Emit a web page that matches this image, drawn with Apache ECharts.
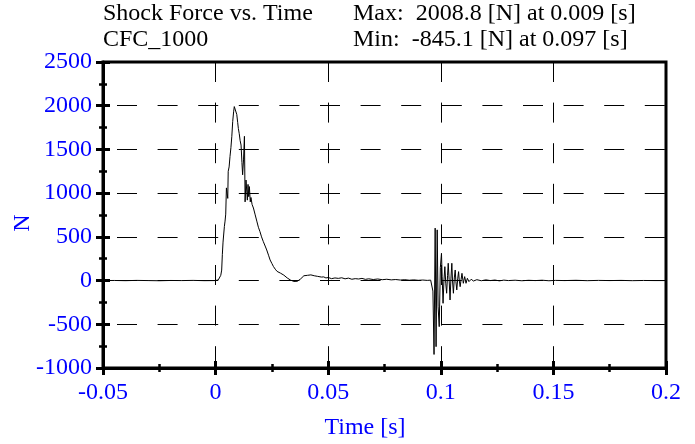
<!DOCTYPE html>
<html lang="en">
<head>
    <meta charset="utf-8">
    <script src="https://cdn.jsdelivr.net/npm/echarts@6/dist/echarts.min.js"></script>
    <style>
        html, body { margin: 0; padding: 0; background: #fff; }
        #main { width: 695px; height: 444px; }
    </style>
</head>
<body>
<div id="main"></div>
<script type="text/javascript">
    // time [s] and shock force [N]
    var timeS = [
        -0.05, -0.045, -0.04, -0.035, -0.03, -0.025, -0.02, -0.015, -0.01, -0.005,
        0, 0.0006, 0.0012, 0.0018, 0.0023, 0.0027, 0.0030, 0.0033, 0.0036, 0.0039,
        0.0042, 0.0045, 0.0048, 0.0051, 0.0054, 0.0056, 0.0060, 0.0064, 0.0068, 0.0072,
        0.0076, 0.0080, 0.0083, 0.0086, 0.0090, 0.0094, 0.0098, 0.0101, 0.0105, 0.0109,
        0.0113, 0.0117, 0.0120, 0.0124, 0.0128, 0.0131, 0.0135, 0.0138, 0.0141, 0.0144,
        0.0147, 0.0150, 0.0154, 0.0157, 0.0162, 0.0168, 0.0175, 0.0183, 0.0190, 0.0197,
        0.0204, 0.0212, 0.0220, 0.0227, 0.0235, 0.0242, 0.0250, 0.0257, 0.0265, 0.0273,
        0.0280, 0.0288, 0.0295, 0.0303, 0.0310, 0.0318, 0.0325, 0.0333, 0.0340, 0.0348,
        0.0355, 0.0363, 0.0370, 0.0378, 0.0385, 0.0392, 0.0400, 0.0408, 0.0415, 0.0423,
        0.0430, 0.0438, 0.0445, 0.0453, 0.0460, 0.0470, 0.0480, 0.0490, 0.0500, 0.0515,
        0.0530, 0.0545, 0.0560, 0.0575, 0.0590, 0.0605, 0.0620, 0.0635, 0.0650, 0.0665,
        0.0680, 0.0700, 0.0720, 0.0740, 0.0760, 0.0780, 0.0800, 0.0820, 0.0840, 0.0860,
        0.0880, 0.0900, 0.0920, 0.0940, 0.0955, 0.0962, 0.0965, 0.0970, 0.0975, 0.0979,
        0.0984, 0.0988, 0.0993, 0.0998, 0.1003, 0.1006, 0.1010, 0.1014, 0.1018, 0.1022,
        0.1026, 0.1030, 0.1033, 0.1037, 0.1041, 0.1045, 0.1049, 0.1052, 0.1056, 0.1060,
        0.1064, 0.1067, 0.1071, 0.1075, 0.1079, 0.1082, 0.1086, 0.1090, 0.1094, 0.1100,
        0.1106, 0.1112, 0.1118, 0.1125, 0.1135, 0.1145, 0.116, 0.118, 0.120, 0.122,
        0.124, 0.126, 0.128, 0.130, 0.133, 0.136, 0.139, 0.142, 0.145, 0.148,
        0.151, 0.155, 0.160, 0.165, 0.170, 0.175, 0.180, 0.185, 0.190, 0.195,
        0.200
    ];
    var forceN = [
        0, 1, -1, 2, 0, -2, 1, 0, 2, -1,
        0, 4, 8, 25, 60, 120, 300, 440, 430, 620,
        680, 760, 1060, 1000, 940, 1250, 1300, 1420, 1520, 1650,
        1820, 1930, 1990, 1975, 2008.8, 1900, 1810, 1740, 1680, 1600,
        1550, 1350, 1210, 1380, 1650, 900, 1150, 1170, 920, 1100,
        960, 1075, 900, 950, 870, 830, 760, 680, 610, 560,
        500, 445, 395, 350, 290, 236, 195, 160, 130, 105,
        100, 85, 75, 62, 50, 30, 15, 5, -5, -10,
        0, -8, 5, 20, 40, 55, 70, 60, 80, 65,
        75, 55, 60, 48, 55, 40, 42, 30, 35, 22,
        30, 25, 32, 20, 28, 15, 22, 18, 25, 14,
        20, 12, 18, 10, 15, 8, 12, 6, 10, 4,
        8, 3, 6, 2, 5, 0, -120, -845.1, 600, -756,
        580, -300, -527, 150, 312, 50, -260, 0, 159, -30,
        -145, 60, 198, 10, -222, 20, 198, 0, -145, 30,
        121, -10, -107, 20, 102, 0, -70, 10, 83, -31,
        45, -31, 26, -12, 15, -5, 10, -2, 8, 0,
        6, -3, 5, 0, 4, -2, 3, 0, 4, -2,
        2, 0, 3, -1, 2, 0, 2, -1, 1, 0,
        0
    ];
    var xTicks = { min: -0.05, max: 0.2, step: 0.05 };
    var yTicks = { min: -1000, max: 2500, step: 500 };

    var titleLeft = ['Shock Force vs. Time', 'CFC_1000'];
    var titleRight = ['Max:  2008.8 [N] at 0.009 [s]', 'Min:  -845.1 [N] at 0.097 [s]'];

    var font = "'Liberation Serif', 'Times New Roman', serif";
    var blue = '#0000ff';

    var points = [];
    for (var i = 0; i < timeS.length; i++) {
        points.push([timeS[i], forceN[i]]);
    }

    function textTitle(txt, left, top) {
        return {
            text: txt, left: left, top: top, padding: 0,
            textStyle: { fontFamily: font, fontSize: 24, fontWeight: 'normal', color: '#000' }
        };
    }

    function plainNum(v) {
        return String(Math.round(v * 1000) / 1000);
    }

    // main axis draws line, labels, outer ticks; twin axis draws inner ticks
    function xAxisOf(main) {
        return {
            type: 'value', position: 'bottom',
            min: xTicks.min, max: xTicks.max, interval: xTicks.step,
            name: main ? 'Time [s]' : '',
            nameLocation: 'middle', nameGap: 48, nameMoveOverlap: false,
            nameTextStyle: { fontFamily: font, fontSize: 24, color: blue, padding: [0, 39, 0, 0] },
            axisLine: { show: main, onZero: false, lineStyle: { color: '#000', width: 3 } },
            axisTick: { show: true, inside: !main, length: 7, lineStyle: { color: '#000', width: 3 } },
            minorTick: { show: true, splitNumber: 2, length: 4, lineStyle: { color: '#000', width: 2.5 } },
            axisLabel: { show: main, margin: 13, color: blue, fontFamily: font, fontSize: 24, formatter: plainNum },
            splitLine: {
                show: main,
                lineStyle: { color: '#000', width: 1, type: [20, 20.6], dashOffset: 0 }
            }
        };
    }

    function yAxisOf(main) {
        return {
            type: 'value', position: 'left',
            min: yTicks.min, max: yTicks.max, interval: yTicks.step,
            name: main ? 'N' : '',
            nameLocation: 'middle', nameGap: 68, nameRotate: 90, nameMoveOverlap: false,
            nameTextStyle: { fontFamily: font, fontSize: 24, color: blue, padding: [0, 16, 0, 0] },
            axisLine: { show: main, onZero: false, lineStyle: { color: '#000', width: 3 } },
            axisTick: { show: true, inside: !main, length: 7, lineStyle: { color: '#000', width: 3 } },
            minorTick: { show: true, splitNumber: 2, length: 4, lineStyle: { color: '#000', width: 2.5 } },
            axisLabel: { show: main, margin: 11, color: blue, fontFamily: font, fontSize: 24, formatter: plainNum },
            splitLine: {
                show: main,
                lineStyle: { color: '#000', width: 1, type: [20, 20.6], dashOffset: 26.6 }
            }
        };
    }

    var chart = echarts.init(document.getElementById('main'));
    chart.setOption({
        backgroundColor: '#fff',
        animation: false,
        title: [
            textTitle(titleLeft[0], 103, 2),
            textTitle(titleLeft[1], 103, 28),
            textTitle(titleRight[0], 353, 2),
            textTitle(titleRight[1], 353, 28)
        ],
        grid: {
            left: 103, right: 29, top: 62, bottom: 76,
            outerBoundsMode: 'none', containLabel: false,
            show: true, borderColor: '#000', borderWidth: 3, backgroundColor: '#fff'
        },
        xAxis: [xAxisOf(true), xAxisOf(false)],
        yAxis: [yAxisOf(true), yAxisOf(false)],
        series: [{
            type: 'line',
            data: points,
            showSymbol: false,
            symbol: 'none',
            lineStyle: { color: '#000', width: 1 },
            z: 3
        }]
    });
</script>
</body>
</html>
